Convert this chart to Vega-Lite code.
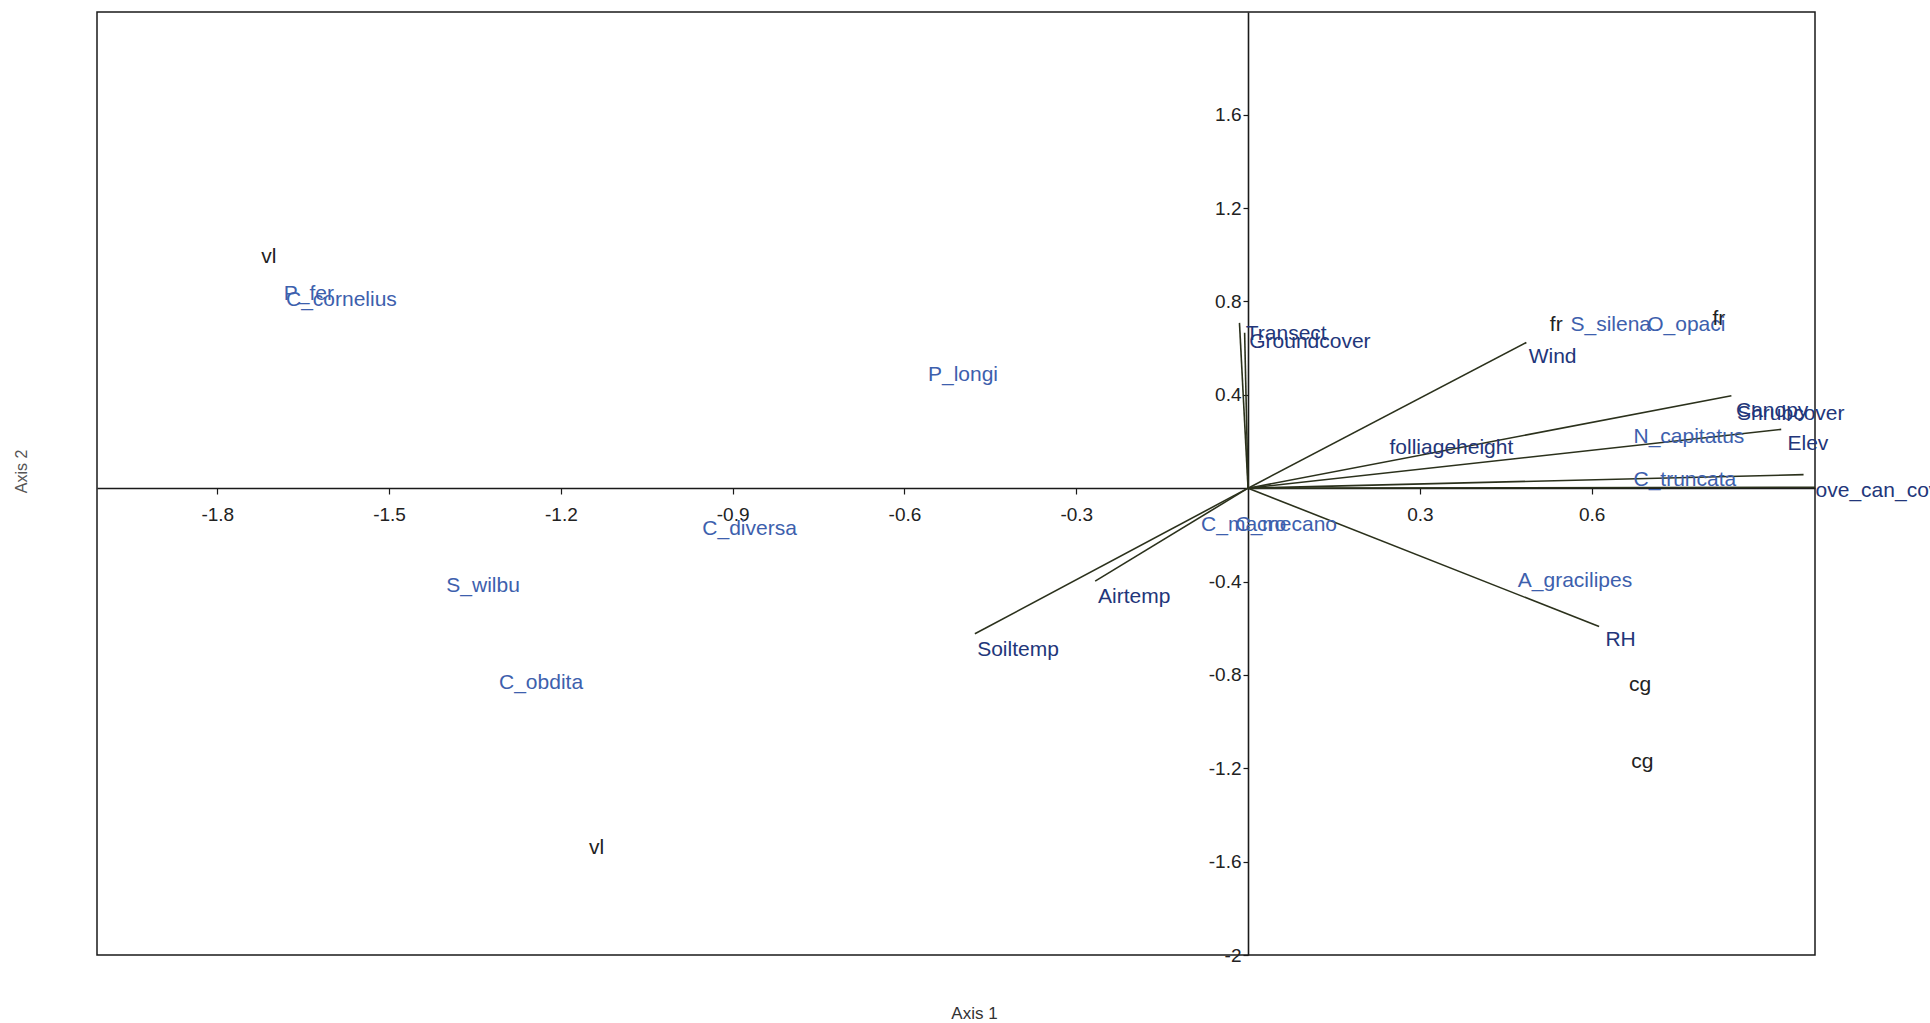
{
  "$schema": "https://vega.github.io/schema/vega-lite/v6.json",
  "width": 1718,
  "height": 943,
  "autosize": "none",
  "padding": {"left": 97, "top": 12, "right": 115, "bottom": 68},
  "background": "white",
  "config": {
    "font": "Liberation Sans",
    "view": {"stroke": "#1a1a1a", "strokeWidth": 1.5}
  },
  "datasets": {
    "vectors": [
      {"name": "Soiltemp", "x": -0.477, "y": -0.624},
      {"name": "Airtemp", "x": -0.267, "y": -0.398},
      {"name": "Wind", "x": 0.486, "y": 0.624},
      {"name": "RH", "x": 0.613, "y": -0.593},
      {"name": "Transect", "x": -0.015, "y": 0.708},
      {"name": "Groundcover", "x": -0.006, "y": 0.666},
      {"name": "Shrubcover", "x": 0.844, "y": 0.396},
      {"name": "Elev", "x": 0.931, "y": 0.252},
      {"name": "ove_can_cover", "x": 0.970, "y": 0.058},
      {"name": "axis_vector", "x": 0.99, "y": 0.004}
    ],
    "labels": [
      {"label": "vl", "kind": "site", "x": -1.723, "y": 1.039},
      {"label": "P_fer", "kind": "species", "x": -1.684, "y": 0.881},
      {"label": "C_cornelius", "kind": "species", "x": -1.680, "y": 0.855},
      {"label": "P_longi", "kind": "species", "x": -0.559, "y": 0.530},
      {"label": "C_diversa", "kind": "species", "x": -0.953, "y": -0.126},
      {"label": "S_wilbu", "kind": "species", "x": -1.400, "y": -0.372},
      {"label": "C_obdita", "kind": "species", "x": -1.308, "y": -0.787},
      {"label": "vl", "kind": "site", "x": -1.151, "y": -1.495},
      {"label": "Soiltemp", "kind": "env", "x": -0.473, "y": -0.645},
      {"label": "Airtemp", "kind": "env", "x": -0.262, "y": -0.420},
      {"label": "C_macro", "kind": "species", "x": -0.082, "y": -0.110},
      {"label": "C_mecano", "kind": "species", "x": -0.022, "y": -0.110},
      {"label": "Transect", "kind": "env", "x": -0.004, "y": 0.708},
      {"label": "Groundcover", "kind": "env", "x": 0.002, "y": 0.672},
      {"label": "Wind", "kind": "env", "x": 0.490, "y": 0.608},
      {"label": "folliageheight", "kind": "env", "x": 0.247, "y": 0.220},
      {"label": "fr", "kind": "site", "x": 0.527, "y": 0.745},
      {"label": "S_silena", "kind": "species", "x": 0.563, "y": 0.745},
      {"label": "O_opaci", "kind": "species", "x": 0.697, "y": 0.745},
      {"label": "fr", "kind": "site", "x": 0.811, "y": 0.771},
      {"label": "Canopy", "kind": "env", "x": 0.852, "y": 0.378},
      {"label": "Shrubcover", "kind": "env", "x": 0.854, "y": 0.367},
      {"label": "N_capitatus", "kind": "species", "x": 0.673, "y": 0.268},
      {"label": "Elev", "kind": "env", "x": 0.942, "y": 0.236},
      {"label": "C_truncata", "kind": "species", "x": 0.673, "y": 0.084},
      {"label": "ove_can_cover", "kind": "env", "x": 0.991, "y": 0.037},
      {"label": "A_gracilipes", "kind": "species", "x": 0.471, "y": -0.352},
      {"label": "RH", "kind": "env", "x": 0.624, "y": -0.603},
      {"label": "cg", "kind": "site", "x": 0.665, "y": -0.798},
      {"label": "cg", "kind": "site", "x": 0.669, "y": -1.124}
    ]
  },
  "layer": [
    {
      "data": {"name": "vectors"},
      "mark": {"type": "rule", "color": "#2b311c", "strokeWidth": 1.6},
      "encoding": {
        "x": {
          "field": "x",
          "type": "quantitative",
          "scale": {"domain": [-2.01, 0.99], "nice": false, "zero": false},
          "axis": {
            "orient": "bottom",
            "offset": -467,
            "values": [-1.8, -1.5, -1.2, -0.9, -0.6, -0.3, 0.3, 0.6],
            "labelExpr": "replace(format(datum.value, '.1f'), '\u2212', '-')",
            "grid": false,
            "domainColor": "#1a1a1a",
            "domainWidth": 1.6,
            "tickColor": "#1a1a1a",
            "tickSize": 6,
            "tickWidth": 1.2,
            "labelFontSize": 19,
            "labelColor": "#222",
            "labelPadding": 11,
            "labelFlush": false,
            "labelOverlap": false,
            "title": "Axis 1",
            "titleFontSize": 17,
            "titleFontWeight": "normal",
            "titleColor": "#333",
            "titleX": 877,
            "titleY": 525,
            "titleBaseline": "middle",
            "titleAlign": "center"
          }
        },
        "y": {
          "field": "y",
          "type": "quantitative",
          "scale": {"domain": [-2, 2.04], "nice": false, "zero": false},
          "axis": {
            "orient": "left",
            "offset": -1151,
            "values": [-2, -1.6, -1.2, -0.8, -0.4, 0.4, 0.8, 1.2, 1.6],
            "labelExpr": "replace(format(datum.value, '.1~f'), '\u2212', '-')",
            "grid": false,
            "domainColor": "#1a1a1a",
            "domainWidth": 1.6,
            "tickColor": "#1a1a1a",
            "tickSize": 5,
            "tickWidth": 1.2,
            "labelFontSize": 19,
            "labelColor": "#222",
            "labelPadding": 2,
            "labelFlush": false,
            "labelOverlap": false,
            "title": "Axis 2",
            "titleFontSize": 16,
            "titleFontWeight": "normal",
            "titleColor": "#555",
            "titleX": -1227,
            "titleY": 459,
            "titleAngle": -90,
            "titleBaseline": "middle",
            "titleAlign": "center"
          }
        },
        "x2": {"datum": 0},
        "y2": {"datum": 0}
      }
    },
    {
      "data": {"name": "labels"},
      "mark": {"type": "text", "align": "left", "baseline": "top", "fontSize": 21, "font": "Liberation Sans"},
      "encoding": {
        "x": {"field": "x", "type": "quantitative"},
        "y": {"field": "y", "type": "quantitative"},
        "text": {"field": "label"},
        "color": {
          "field": "kind",
          "type": "nominal",
          "scale": {"domain": ["species", "env", "site"], "range": ["#3d60ad", "#22367a", "#222222"]},
          "legend": null
        }
      }
    }
  ]
}
